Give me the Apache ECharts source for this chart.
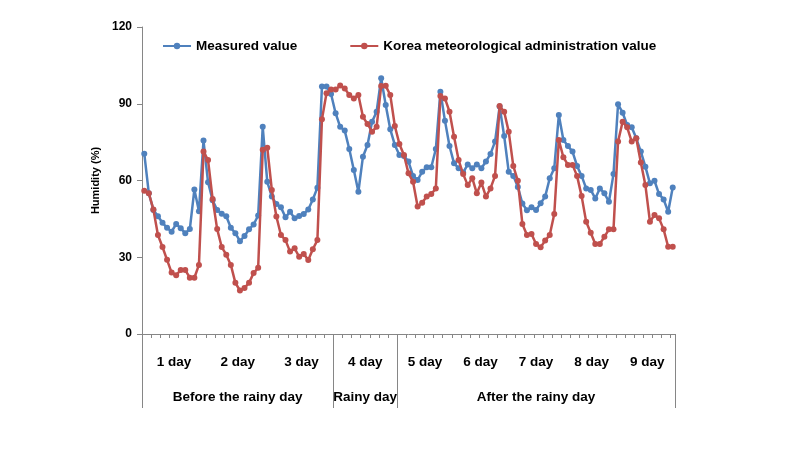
<!DOCTYPE html>
<html>
<head>
<meta charset="utf-8">
<script src="https://cdn.jsdelivr.net/npm/echarts@6/dist/echarts.min.js"></script>
<style>
html,body{margin:0;padding:0;background:#fff;}
#chart{width:800px;height:453px;}
</style>
</head>
<body>
<div id="chart"></div>
<script>
// ---- data ----
const seriesNames = ['Measured value', 'Korea meteorological administration value'];
const measured = [
  70.5, 55, 48.5, 46, 43.5, 41.5, 40, 43, 41.3, 39.4, 41, 56.5, 48, 75.6,
  59.3, 52.3, 48.5, 47, 46, 41.5, 39.4, 36.3, 38.3, 40.9, 42.8, 46.3, 81, 59.5,
  53.7, 50.8, 49.5, 45.6, 47.8, 45.2, 46.1, 46.9, 48.7, 52.6, 57.2, 96.7, 96.7, 93.8,
  86.3, 81, 79.5, 72.3, 64.1, 55.6, 69.3, 73.9, 83, 86.9, 100, 89.5, 80, 73.9,
  70, 69.6, 67.4, 61.8, 60.2, 63.4, 65.2, 65.2, 72.3, 94.7, 83.4, 73.5,
  66.7, 64.8, 63.1, 66.3, 64.8, 66.3, 64.8, 67.4, 70.4, 75.2, 88.9, 77.4,
  63.4, 61.8, 57.5, 51, 48.4, 49.5, 48.5, 51.1, 53.7, 60.9, 64.8, 85.6,
  75.8, 73.5, 71.3, 65.7, 61.8, 56.9, 56.3, 53, 56.9, 55, 51.7, 62.5,
  89.8, 86.5, 81.7, 80.8, 76.5, 71.3, 65.4, 58.9, 59.9, 54.7, 52.6, 47.8, 57.3
];
const kma = [
  56, 55, 48.7, 38.7, 34, 29, 24, 23, 25, 25, 22, 22, 27, 71.3,
  68, 52.8, 41, 34, 31, 27, 20, 17, 18, 20, 23.8, 25.9, 72, 72.8,
  56.3, 45.9, 38.7, 36.7, 32.2, 33.5, 30.2, 31.3, 28.9, 33.1, 36.7, 83.9, 94.1, 95.6,
  95.6, 97.1, 96, 93.4, 92.1, 93.4, 84.9, 82.1, 79.1, 81, 96.9, 97, 93.4, 81.3,
  74.3, 70, 62.8, 59.5, 49.8, 51.3, 53.7, 54.7, 56.9, 93, 92.1, 86.9,
  77.1, 68, 62.5, 58.2, 60.9, 55, 59.2, 53.7, 56.9, 61.8, 89.1, 86.9,
  79.1, 65.7, 59.9, 43, 38.7, 39.1, 35.2, 33.9, 36.5, 38.7, 46.9, 75.8,
  69.1, 66.1, 66.1, 61.8, 53.9, 43.9, 39.6, 35.2, 35.2, 38, 40.9, 40.9,
  75.2, 83, 80.8, 75.2, 76.5, 67, 58.2, 43.9, 46.5, 45.2, 40.9, 34.1, 34.1
];
const categories = measured.map((_, i) => String(i + 1));
const yTicks = [0, 30, 60, 90, 120];
const dayLabels = ['1 day', '2 day', '3 day', '4 day', '5 day', '6 day', '7 day', '8 day', '9 day'];
const groupLabels = ['Before the rainy day', 'Rainy day', 'After the rainy day'];
const groupSpans = [42, 14, 61];   // number of categories per group
const groupDays = [3, 1, 5];       // number of days per group

// ---- chart ----
const FONT = 'Liberation Sans';
const AXIS_COLOR = '#868686';
const chart = echarts.init(document.getElementById('chart'), null, {renderer: 'canvas'});

chart.setOption({
  animation: false,
  backgroundColor: '#fff',
  textStyle: {fontFamily: FONT},
  legend: {
    left: 157, top: 34,
    itemWidth: 28, itemHeight: 8, itemGap: 52,
    textStyle: {fontFamily: FONT, fontWeight: 'bold', fontSize: 13.5, color: '#000'},
    data: seriesNames
  },
  grid: {left: 142, top: 27, width: 533, height: 307, containLabel: false},
  xAxis: {
    type: 'category',
    data: categories,
    boundaryGap: true,
    axisLine: {lineStyle: {color: AXIS_COLOR, width: 1}},
    axisTick: {show: true, interval: 1, length: 4, inside: false, lineStyle: {color: AXIS_COLOR}},
    axisLabel: {show: false},
    splitLine: {show: false}
  },
  yAxis: {
    type: 'value',
    min: yTicks[0], max: yTicks[yTicks.length - 1], interval: yTicks[1] - yTicks[0],
    name: 'Humidity (%)',
    nameLocation: 'middle', nameRotate: 90, nameGap: 36,
    nameTextStyle: {fontFamily: FONT, fontWeight: 'bold', fontSize: 11, color: '#000'},
    axisLine: {show: true, lineStyle: {color: AXIS_COLOR, width: 1}},
    axisTick: {show: true, length: 5, lineStyle: {color: AXIS_COLOR}},
    axisLabel: {fontFamily: FONT, fontWeight: 'bold', fontSize: 12, color: '#000', margin: 10},
    splitLine: {show: false}
  },
  series: [
    {
      name: seriesNames[0], type: 'line', data: measured,
      symbol: 'circle', symbolSize: 6, showAllSymbol: true,
      lineStyle: {width: 2.5, color: '#4F81BD'},
      itemStyle: {color: '#4F81BD'}, z: 2
    },
    {
      name: seriesNames[1], type: 'line', data: kma,
      symbol: 'circle', symbolSize: 6, showAllSymbol: true,
      lineStyle: {width: 2.5, color: '#C0504D'},
      itemStyle: {color: '#C0504D'}, z: 3
    }
  ]
});

// ---- multi-level category labels (positions derived from the axis scale) ----
const p0 = chart.convertToPixel({xAxisIndex: 0}, 0);
const p1 = chart.convertToPixel({xAxisIndex: 0}, 1);
const step = p1 - p0;
const bx = b => p0 + (b - 0.5) * step;   // pixel of a category boundary
const yBase = chart.convertToPixel({yAxisIndex: 0}, 0);
const dividerBottom = yBase + 74;
const dayY = yBase + 28;
const groupY = yBase + 63;

const elements = [];
let start = 0, dayIdx = 0;
const boundaries = [0];
groupSpans.forEach((span, g) => {
  const end = start + span;
  boundaries.push(end);
  elements.push({
    type: 'text',
    x: (bx(start) + bx(end)) / 2, y: groupY,
    style: {text: groupLabels[g], font: 'bold 13.5px ' + FONT, fill: '#000', align: 'center', verticalAlign: 'middle'}
  });
  const per = span / groupDays[g];
  for (let d = 0; d < groupDays[g]; d++) {
    const c = start + per * (d + 0.5);
    elements.push({
      type: 'text',
      x: bx(c), y: dayY,
      style: {text: dayLabels[dayIdx++], font: 'bold 13.5px ' + FONT, fill: '#000', align: 'center', verticalAlign: 'middle'}
    });
  }
  start = end;
});
boundaries.forEach((b) => {
  const xr = Math.round(bx(b)) + 0.5;
  elements.push({
    type: 'line',
    shape: {x1: xr, y1: yBase, x2: xr, y2: dividerBottom},
    style: {stroke: AXIS_COLOR, lineWidth: 1}
  });
});
chart.setOption({graphic: {elements: elements}});
</script>
</body>
</html>
